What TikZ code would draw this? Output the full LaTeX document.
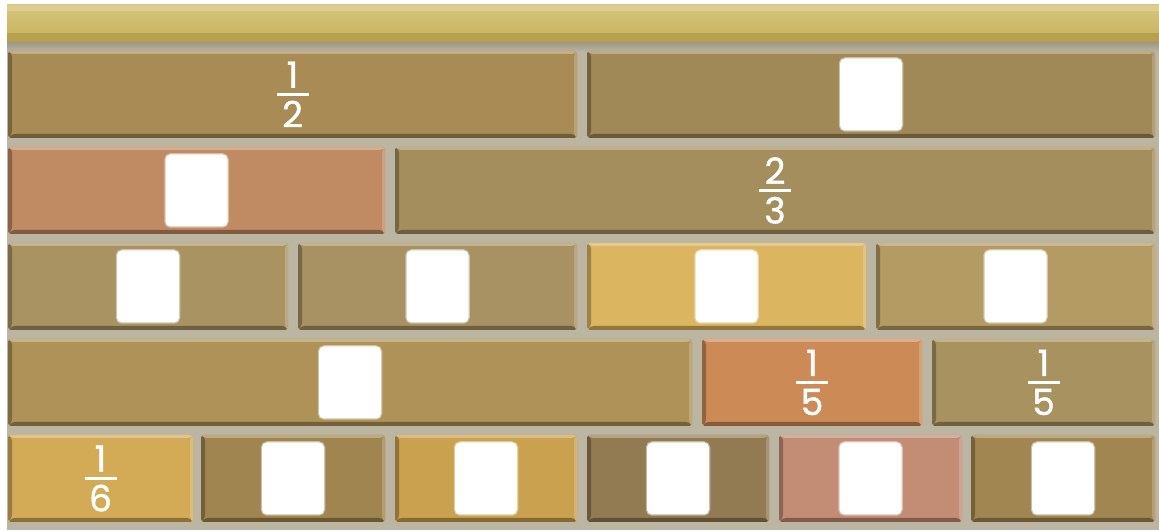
\documentclass[tikz,border=0pt]{standalone}
\usepackage{fontspec}
\setmainfont{Poppins}
\newfontfamily\fracfamily[FakeBold=1.2]{Poppins}
\usetikzlibrary{calc}

\definecolor{mortar}{HTML}{BCB5A2}
\definecolor{mortarshade}{HTML}{9D9685}
\definecolor{barhi}{HTML}{DDCD90}
\definecolor{bartop}{HTML}{D6C57C}
\definecolor{barbot}{HTML}{CAB664}
\definecolor{bardark}{HTML}{B6A04E}
% brick colours, by row and column
\definecolor{c11}{HTML}{A98B55}
\definecolor{c12}{HTML}{A08857}
\definecolor{c21}{HTML}{C08A62}
\definecolor{c22}{HTML}{A48E5E}
\definecolor{c31}{HTML}{A99363}
\definecolor{c32}{HTML}{A89162}
\definecolor{c33}{HTML}{DBB55F}
\definecolor{c34}{HTML}{B49A63}
\definecolor{c41}{HTML}{AF9258}
\definecolor{c42}{HTML}{CC8A56}
\definecolor{c43}{HTML}{A8925F}
\definecolor{c51}{HTML}{D3AB57}
\definecolor{c52}{HTML}{A08550}
\definecolor{c53}{HTML}{C9A14F}
\definecolor{c54}{HTML}{927A52}
\definecolor{c55}{HTML}{C28C75}
\definecolor{c56}{HTML}{A18651}

\newcommand{\fracfont}{\fracfamily\fontsize{36}{40}\selectfont}
\newcommand{\frc}[2]{\vbox{\hbox to 32pt{\hss#1\hss}\kern5pt\hrule height 3pt\kern5pt\hbox to 32pt{\hss#2\hss}}}

\begin{document}
\begin{tikzpicture}[
    x=1pt, y=1pt,
    brick/.style={rectangle, rounded corners=3pt, inner sep=0pt, minimum height=87,
                  fill=#1, text=white, font=\fracfont,
                  path picture={
                    \path (path picture bounding box.south west) coordinate (sw)
                          (path picture bounding box.north east) coordinate (ne);
                    \fill[#1!72!black] (sw) -- (sw|-ne) -- ($(sw|-ne)+(4,-3)$) -- ($(sw)+(4,4)$) -- cycle;
                    \fill[#1!66!black] (sw) -- ($(sw)+(4,4)$) -- ($(ne|-sw)+(-3,4)$) -- (ne|-sw) -- cycle;
                    \fill[#1!70!white] (sw|-ne) -- (ne) -- ($(ne)+(-3,-3)$) -- ($(sw|-ne)+(4,-3)$) -- cycle;
                    \fill[#1!80!white] (ne) -- (ne|-sw) -- ($(ne|-sw)+(-3,4)$) -- ($(ne)+(-3,-3)$) -- cycle;
                  }},
    slot/.style={fill=white, rounded corners=5pt, inner sep=0pt, minimum width=62,
                 minimum height=72, draw=white, draw opacity=0.45, line width=2.5pt}
]
    \clip (0,0) rectangle (1159,530);

    % Wall and top ledge
    \fill[mortar] (7,0) rectangle (1159,488);
    \shade[top color=mortarshade, bottom color=mortar] (7,478) rectangle (1159,488);
    \shade[top color=bartop, bottom color=barbot] (7,497) rectangle (1159,525);
    \fill[barhi] (7,519) rectangle (1159,525);
    \fill[bardark] (7,488) rectangle (1159,497);

    % Row 1: halves
    \node[brick=c11, minimum width=569] (b11) at (292.5,435.5) {\frc{1}{2}};
    \node[brick=c12, minimum width=568] (b12) at (871,435.5) {};
    \node[slot] (s12) at (b12) {};

    % Row 2: thirds
    \node[brick=c21, minimum width=377] (b21) at (196.5,339.5) {};
    \node[brick=c22, minimum width=760] (b22) at (775,339.5) {\frc{2}{3}};
    \node[slot] (s21) at (b21) {};

    % Row 3: quarters
    \node[brick=c31, minimum width=280] (b31) at (148,243.5) {};
    \node[brick=c32, minimum width=279] (b32) at (437.5,243.5) {};
    \node[brick=c33, minimum width=279] (b33) at (726.5,243.5) {};
    \node[brick=c34, minimum width=279] (b34) at (1015.5,243.5) {};
    \node[slot] (s31) at (b31) {};
    \node[slot] (s32) at (b32) {};
    \node[slot] (s33) at (b33) {};
    \node[slot] (s34) at (b34) {};

    % Row 4: fifths
    \node[brick=c41, minimum width=684] (b41) at (350,147.5) {};
    \node[brick=c42, minimum width=220] (b42) at (812,147.5) {\frc{1}{5}};
    \node[brick=c43, minimum width=223] (b43) at (1043.5,147.5) {\frc{1}{5}};
    \node[slot] (s41) at (b41) {};

    % Row 5: sixths
    \node[brick=c51, minimum width=185] (b51) at (100.5,51.5) {\frc{1}{6}};
    \node[brick=c52, minimum width=184] (b52) at (293,51.5) {};
    \node[brick=c53, minimum width=182] (b53) at (486,51.5) {};
    \node[brick=c54, minimum width=182] (b54) at (678,51.5) {};
    \node[brick=c55, minimum width=183] (b55) at (870.5,51.5) {};
    \node[brick=c56, minimum width=184] (b56) at (1063,51.5) {};
    \foreach \k in {2,...,6}
        \node[slot] (s5\k) at (b5\k) {};
\end{tikzpicture}
\end{document}
